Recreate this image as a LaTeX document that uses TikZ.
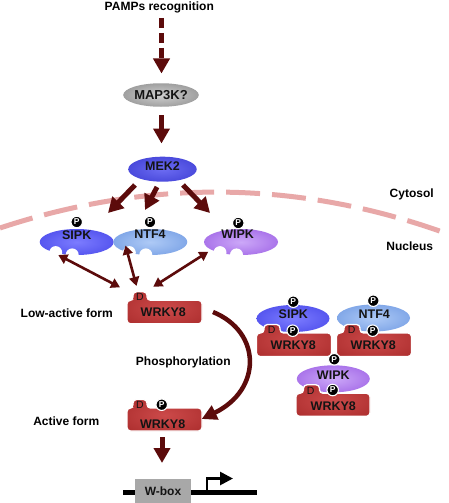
\documentclass[tikz,border=0pt]{standalone}
\usepackage{fontspec}
\setmainfont{Liberation Sans}
\usetikzlibrary{arrows.meta,calc,shapes.geometric}
\definecolor{arrowc}{HTML}{5C0B0B}
\definecolor{membr}{HTML}{E8A8A8}
\definecolor{sipkin}{HTML}{7C7CFF}
\definecolor{sipkout}{HTML}{4040E6}
\definecolor{ntfin}{HTML}{AECAF6}
\definecolor{ntfout}{HTML}{6894E0}
\definecolor{wipkin}{HTML}{CCA8F8}
\definecolor{wipkout}{HTML}{9656E2}
\definecolor{mekin}{HTML}{6C6CF2}
\definecolor{mekout}{HTML}{3636CF}
\definecolor{mapin}{HTML}{CFCFCF}
\definecolor{mapout}{HTML}{838383}
\definecolor{wrkin}{HTML}{CC4A4A}
\definecolor{wrkout}{HTML}{A82A2A}
\definecolor{wboxc}{HTML}{A8A8A8}
\definecolor{inktext}{HTML}{141414}
\makeatletter
\pgfdeclareradialshading[tikz@radial@inner,tikz@radial@outer]{softradial}{\pgfpointorigin}{color(0bp)=(tikz@radial@inner); color(40bp)=(tikz@radial@outer); color(50bp)=(tikz@radial@outer)}
\makeatother
% #1 left, #2 top, #3 width, #4 height, #5 tab left offset, #6 tab right offset
\newcommand\WrkyShape[6]{%
  \path[shadeit={wrkin}{wrkout}, draw=white, line width=1.3pt, rounded corners=3.5pt]
    (#1,#2+#4/2) -- (#1,#2) -- (#1+#5,#2) -- (#1+#5,#2-8.5) -- (#1+#6,#2-8.5)
    -- (#1+#6,#2) -- (#1+#3,#2) -- (#1+#3,#2+#4) -- (#1,#2+#4) -- cycle;}
% #1 centre x, #2 centre y
\newcommand\KinNotches[2]{%
  \fill[white] (#1-21,#2+10.6) circle[radius=6.5pt];
  \fill[white] (#1-4.5,#2+12.9) circle[radius=6.5pt];}
\begin{document}
\begin{tikzpicture}[x=1pt,y=-1pt,
  shadeit/.style 2 args={inner color=#1, outer color=#2, shading=softradial},
  shapetext/.style={inner sep=0, text=inktext, font=\fontsize{12.5}{14}\selectfont\bfseries},
  lbl/.style={inner sep=0, anchor=base, text=black, font=\fontsize{12}{14}\selectfont\bfseries},
  kin/.style={ellipse, inner sep=0, minimum width=74pt, minimum height=26pt},
  ckin/.style={ellipse, inner sep=0, minimum width=73pt, minimum height=27pt},
  pbadge/.style={circle, fill=black, draw=white, line width=1.1pt, inner sep=0, minimum size=11.5pt, text=white, font=\fontsize{8.5}{8.5}\selectfont\bfseries},
  dmark/.style={inner sep=0, text=inktext, font=\fontsize{10.5}{11}\selectfont},
  bigarrow/.style={draw=arrowc, line width=5pt, -{Triangle[length=15pt,width=16pt]}},
  phosarrow/.style={draw=arrowc, line width=4.5pt, -{Triangle[length=15pt,width=15pt]}},
  dblarrow/.style={draw=arrowc, line width=2.6pt, {Triangle[length=9pt,width=10pt]}-{Triangle[length=9pt,width=10pt]}},
  membrane/.style={draw=membr, line width=5pt, dash pattern=on 34pt off 12pt},
]
\useasboundingbox (0,0) rectangle (448,503);
\fill[white] (0,0) rectangle (448,503);

% membrane
\draw[membrane] (0,228) .. controls (149.6,178.5) and (298.9,179.9) .. (448,234);

% labels
\node[lbl] (pamps) at (159.3,10.5) {PAMPs recognition};
\node[lbl] (cyto) at (411.7,197.7) {Cytosol};
\node[lbl] (nucl) at (409.7,250) {Nucleus};
\node[lbl] (lowf) at (66.7,317.5) {Low-active form};
\node[lbl] (phos) at (183.3,365.7) {Phosphorylation};
\node[lbl] (actf) at (66.3,425) {Active form};

% MAP3K and MEK2
\node[ellipse, inner sep=0, minimum width=68pt, minimum height=23.5pt, shadeit={mapin}{mapout},
      text=inktext, font=\fontsize{13}{14}\selectfont\bfseries] (map3k) at (161,95) {MAP3K?};
\node[ellipse, inner sep=0, minimum width=68.5pt, minimum height=25pt, shadeit={mekin}{mekout}] (mek) at (162.5,169.2) {};
\node[shapetext, anchor=base] (mekt) at (162.5,170.7) {MEK2};

% kinases
\node[kin, shadeit={sipkin}{sipkout}] (sipk) at (76.7,242) {};
\KinNotches{76.7}{242}
\node[shapetext, anchor=base] (sipkt) at (76.7,239.3) {SIPK};
\node[pbadge] (sipkp) at (76.7,222) {P};

\node[kin, shadeit={ntfin}{ntfout}] (ntf4) at (150.3,242) {};
\KinNotches{150.3}{242}
\node[shapetext, anchor=base] (ntf4t) at (150,238.5) {NTF4};
\node[pbadge] (ntf4p) at (150,222) {P};

\node[kin, shadeit={wipkin}{wipkout}] (wipk) at (241,242) {};
\KinNotches{241}{242}
\node[shapetext, anchor=base] (wipkt) at (237.7,238.5) {WIPK};
\node[pbadge] (wipkp) at (238.3,223) {P};

% low-active WRKY8
\WrkyShape{127}{300.3}{75}{23.5}{6}{20}
\node[shapetext] (w1) at (163.3,312.2) {WRKY8};
\node[dmark] (w1d) at (140,296.5) {D};

% active WRKY8
\WrkyShape{127}{408}{75}{23}{6}{20}
\node[shapetext] (w2) at (162.7,423.8) {WRKY8};
\node[dmark] (w2d) at (140,404.5) {D};
\node[pbadge] (w2p) at (161.7,404.7) {P};

% complexes
\node[ckin, shadeit={sipkin}{sipkout}] (c1k) at (293,318.5) {};
\WrkyShape{256.5}{333}{75}{23.5}{7.5}{23.5}
\node[shapetext, anchor=base] (c1kt) at (293.3,318.3) {SIPK};
\node[pbadge] (c1kp) at (293.3,301.7) {P};
\node[shapetext, anchor=base] (c1w) at (293.3,349.3) {WRKY8};
\node[dmark] (c1d) at (271.7,329.8) {D};
\node[pbadge] (c1wp) at (292.7,330.7) {P};

\node[ckin, shadeit={ntfin}{ntfout}] (c2k) at (373.5,318) {};
\WrkyShape{336.5}{333}{75}{23.5}{7.5}{23.5}
\node[shapetext, anchor=base] (c2kt) at (374.3,318.3) {NTF4};
\node[pbadge] (c2kp) at (373.3,300.7) {P};
\node[shapetext, anchor=base] (c2w) at (373.3,349) {WRKY8};
\node[dmark] (c2d) at (351.7,329.8) {D};
\node[pbadge] (c2wp) at (372.7,330.7) {P};

\node[ckin, shadeit={wipkin}{wipkout}] (c3k) at (333.3,378.8) {};
\WrkyShape{296}{393.3}{74}{23}{7.5}{23.5}
\node[shapetext, anchor=base] (c3kt) at (333.3,379.3) {WIPK};
\node[pbadge] (c3kp) at (334.3,359.3) {P};
\node[shapetext, anchor=base] (c3w) at (333.3,410) {WRKY8};
\node[dmark] (c3d) at (310.7,390.5) {D};
\node[pbadge] (c3wp) at (332.7,390) {P};

% DNA
\coordinate (dnaL) at (123,492.3);
\coordinate (dnaR) at (257,492.3);
\coordinate (tss) at (207,492.3);
\draw[line width=4.5pt] (dnaL) -- (dnaR);
\node[fill=wboxc, minimum width=56pt, minimum height=24pt, inner sep=0,
      text=inktext, font=\fontsize{12}{14}\selectfont\bfseries] (wbox) at (163,491) {W-box};
\draw[line width=2.7pt, line join=miter, -{Triangle[length=13pt,width=13pt]}] (tss) -- ++(0,-13.8) -- ++(26,0);

% connectors
\draw[bigarrow, dash pattern=on 10pt off 5pt] ($(pamps.base)+(2.2,7.5)$) -- ($(map3k)+(0.5,-21.5)$);
\draw[bigarrow] ($(map3k)+(0.5,20)$) -- ($(mek)+(-1,-25.7)$);
\draw[bigarrow] ($(mek)+(-27.5,15.8)$) -- ($(sipk)+(31.3,-29)$);
\draw[bigarrow] ($(mek)+(-5.5,17.8)$) -- ($(ntf4)+(-5.3,-32)$);
\draw[bigarrow] ($(mek)+(20.5,15.8)$) -- ($(wipk)+(-31,-29)$);

\draw[dblarrow] ($(sipk)+(-18.4,13)$) -- ($(w1)+(-43.3,-24.9)$);
\draw[dblarrow] ($(ntf4)+(-24.8,3.5)$) -- ($(w1)+(-26.8,-26.2)$);
\draw[dblarrow] ($(wipk)+(-32.7,9.7)$) -- ($(w1)+(-10,-25.5)$);

\draw[phosarrow] ($(w1)+(49.7,-0.2)$) .. controls ($(w1)+(98.7,19.8)$) and ($(w2)+(99.3,-33.8)$) .. ($(w2)+(39,-4.8)$);
\draw[bigarrow] ($(w2)+(-0.7,13.2)$) -- ($(wbox)+(-1,-28)$);
\end{tikzpicture}
\end{document}
